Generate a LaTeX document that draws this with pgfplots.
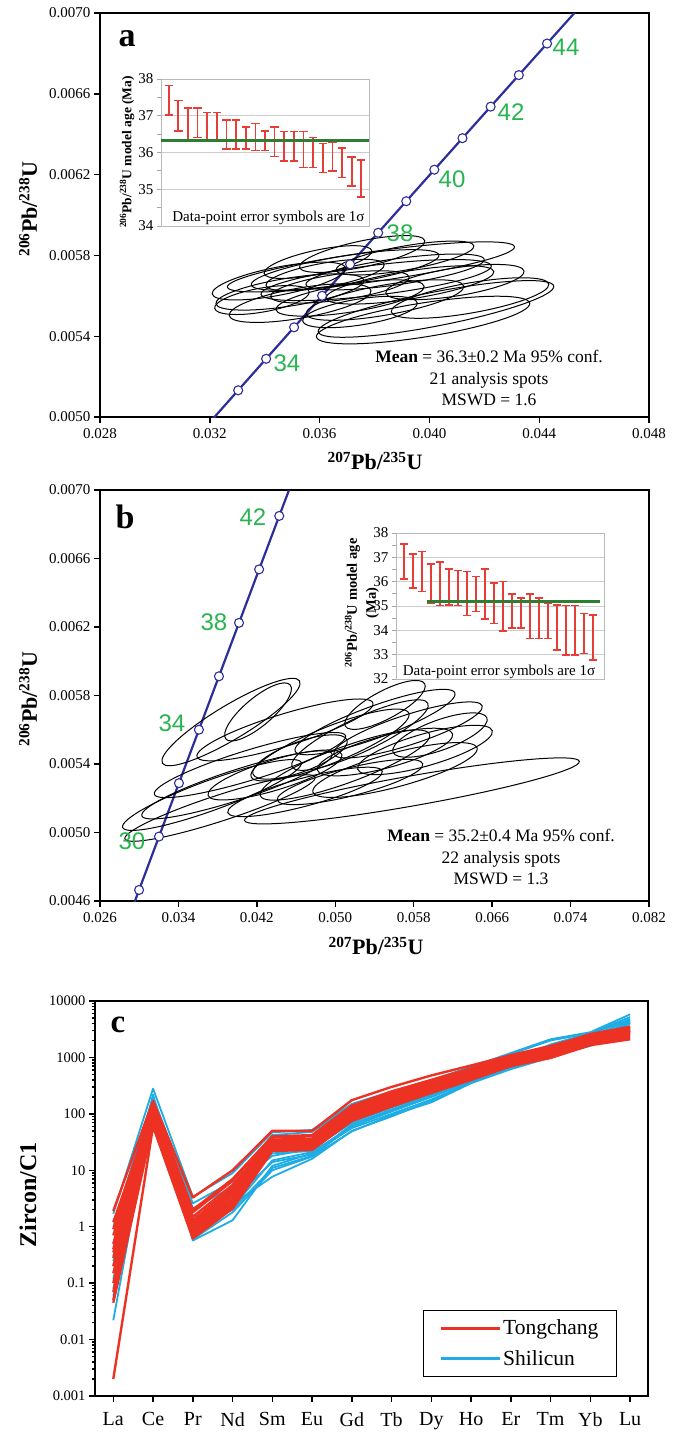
\documentclass[border=0pt]{standalone}
\usepackage{pgfplots}
\pgfplotsset{compat=1.18}
\usepackage{pgfplotstable}
\usepackage{fontspec}
\setmainfont{Liberation Serif}
\newfontfamily\sansf{Liberation Sans}
\definecolor{conc}{RGB}{45,45,155}
\definecolor{lblgreen}{RGB}{40,180,80}
\definecolor{ebred}{RGB}{232,60,55}
\definecolor{meangreen}{RGB}{45,125,50}
\definecolor{tcred}{RGB}{237,50,36}
\definecolor{slblue}{RGB}{30,172,228}
\newcommand{\fs}[1]{\fontsize{#1}{#1}\selectfont}

% ellipse plot mark: semi-axes (in px) passed through mark options
\def\ellrx{1}\def\ellry{1}
\pgfdeclareplotmark{ellmk}{%
  \pgfpathellipse{\pgfpointorigin}{\pgfpoint{\ellrx pt}{0pt}}{\pgfpoint{0pt}{\ellry pt}}%
  \pgfusepathqstroke}
% \ellp{x}{y}{semi-major px}{semi-minor px}{angle}
\newcommand{\ellp}[5]{\addplot[only marks, mark=ellmk,
  mark options={/utils/exec={\def\ellrx{#3}\def\ellry{#4}}, rotate=#5, draw=black, line width=1pt}]
  coordinates {(#1,#2)};}

% ---------- panel a data ----------
\pgfplotstableread{
x y
0.0320170 0.0049763
0.0330339 0.0051322
0.0340518 0.0052882
0.0350707 0.0054441
0.0360905 0.0056001
0.0371114 0.0057561
0.0381333 0.0059121
0.0391562 0.0060682
0.0401801 0.0062243
0.0412050 0.0063804
0.0422313 0.0065365
0.0432579 0.0066926
0.0442859 0.0068488
0.0453148 0.0070050
}\concLineA
\pgfplotstableread{
x y
0.0330339 0.0051322
0.0340518 0.0052882
0.0350707 0.0054441
0.0360905 0.0056001
0.0371114 0.0057561
0.0381333 0.0059121
0.0391562 0.0060682
0.0401801 0.0062243
0.0412050 0.0063804
0.0422313 0.0065365
0.0432579 0.0066926
0.0442859 0.0068488
}\concPtsA
\pgfplotstableread{
x y e
1 37.42 0.40
2 37.00 0.41
3 36.785 0.425
4 36.81 0.40
5 36.725 0.365
6 36.725 0.365
7 36.485 0.395
8 36.485 0.395
9 36.395 0.305
10 36.42 0.37
11 36.32 0.27
12 36.295 0.405
13 36.17 0.40
14 36.17 0.40
15 36.08 0.49
16 36.00 0.41
17 35.85 0.40
18 35.885 0.385
19 35.72 0.40
20 35.485 0.395
21 35.29 0.50
}\errA

% ---------- panel b data ----------
\pgfplotstableread{
x y
0.0289724 0.0045088
0.0299863 0.0046646
0.0320170 0.0049763
0.0340518 0.0052882
0.0360905 0.0056001
0.0381333 0.0059121
0.0401801 0.0062243
0.0422313 0.0065365
0.0442859 0.0068488
0.0453148 0.0070050
}\concLineB
\pgfplotstableread{
x y
0.0299863 0.0046646
0.0320170 0.0049763
0.0340518 0.0052882
0.0360905 0.0056001
0.0381333 0.0059121
0.0401801 0.0062243
0.0422313 0.0065365
0.0442859 0.0068488
}\concPtsB
\pgfplotstableread{
x y e
1 36.835 0.715
2 36.43 0.70
3 36.42 0.82
4 35.92 0.80
5 35.91 0.89
6 35.79 0.74
7 35.735 0.715
8 35.515 0.905
9 35.49 0.72
10 35.50 1.03
11 35.115 0.825
12 34.995 1.015
13 34.79 0.70
14 34.705 0.615
15 34.58 0.91
16 34.495 0.825
17 34.395 0.725
18 34.12 0.93
19 34.005 1.015
20 34.005 1.015
21 33.875 0.825
22 33.705 0.925
}\errB

% ---------- panel c data ----------
\pgfplotstableread{
x R1 R2 R3 R4 R5 R6 R7 R8 R9 R10 R11 R12 R13 R14 R15
0 1.9 0.9 0.7 0.5 0.35 0.28 0.2 0.15 0.1 0.07 0.05 0.045 0.002 0.4 1.2
1 170 150 140 130 120 110 100 95 90 80 70 65 60 160 125
2 3.3 1.8 1.5 1.3 1.2 1.1 1.0 0.9 0.8 0.75 0.7 0.65 0.62 2.0 1.0
3 10 6.5 5.5 5.0 4.5 4.0 3.6 3.2 3.0 2.7 2.4 2.2 2.1 7.0 4.2
4 50 38 35 33 31 30 28 27 26 25 24 23 22 40 32
5 50 40 36 34 32 30 29 28 27 26 25 24 23 42 31
6 175 135 125 115 108 100 95 90 88 84 80 78 75 140 110
7 300 240 220 205 195 180 170 165 160 150 145 140 135 250 200
8 480 380 360 340 320 300 290 280 270 260 250 240 235 400 330
9 720 620 580 560 540 520 500 480 470 450 430 410 400 640 550
10 1100 1000 950 920 900 870 850 820 800 780 750 720 700 1050 900
11 1600 1500 1400 1350 1300 1250 1200 1150 1100 1080 1050 1000 980 1550 1300
12 2500 2500 2400 2300 2200 2100 2000 1950 1900 1850 1800 1700 1650 2600 2200
13 3300 3400 3200 3000 2900 2800 2700 2600 2500 2400 2300 2200 2100 3500 3000
}\redtab
\pgfplotstableread{
x B1 B2 B3 B4 B5 B6 B7 B8 B9 B10
0 1.7 1.0 0.3 0.022 0.25 0.12 0.5 0.08 0.2 0.06
1 280 200 180 150 220 160 170 120 140 130
2 3.4 2.6 2.1 1.5 0.57 0.6 1.1 1.0 0.8 0.9
3 8.9 6.3 5.1 2.2 1.3 1.8 2.5 3.0 4.0 2.0
4 47 42 18 15 12 10 7.7 14 20 11
5 52 48 24 21 20 17.5 16 19 22 18
6 150 140 70 60 56 49 50 65 80 60
7 250 240 130 110 100 95 90 120 150 115
8 400 380 220 200 180 160 170 210 260 200
9 680 650 420 380 360 350 370 400 480 390
10 1200 1150 800 700 650 620 680 760 900 720
11 2100 2000 1600 1300 1100 1000 1050 1200 1700 1400
12 2800 2700 2600 2400 2000 1700 1600 2200 2700 2500
13 5800 5200 4800 4400 4200 4000 3000 4100 4600 3600
}\bluetab

\pgfplotsset{
  mainax/.style={
    scale only axis, anchor=south west,
    tick pos=left, tick align=outside,
    major tick length=6pt, minor tick length=3pt,
    tick style={black, line width=1.4pt},
    axis line style={black, line width=2.2pt},
    scaled ticks=false,
    /pgf/number format/assume math mode=true,
    tick label style={font=\rmfamily\fs{15}},
    xticklabel style={yshift=-2pt},
    clip=true,
  },
  insetax/.style={
    scale only axis, anchor=south west,
    axis background/.style={fill=white},
    ymajorgrids, grid style={gray!40, line width=0.8pt},
    axis line style={gray!55, line width=1pt},
    xtick=\empty, ytick pos=left, tick align=outside,
    major tick length=4pt, minor tick length=4pt,
    tick style={gray!70, line width=0.8pt},
    scaled ticks=false,
    /pgf/number format/assume math mode=true,
    yticklabel style={font=\rmfamily\fs{15}},
  },
  errplot/.style={
    only marks, mark=*, mark size=0pt, ebred,
    error bars/.cd, y dir=both, y explicit,
    error bar style={line width=1.7pt, ebred},
    error mark options={ebred, line width=1.5pt, mark size=4.2pt, rotate=90},
  },
}

\begin{document}
\begin{tikzpicture}
\useasboundingbox (0pt,0pt) rectangle (678pt,-1433pt);

% ================= panel a =================
\begin{axis}[mainax,
  at={(100pt,-417pt)}, width=549pt, height=404pt,
  xmin=0.028, xmax=0.048, ymin=0.0050, ymax=0.0070,
  xtick={0.028,0.032,0.036,0.040,0.044,0.048},
  xticklabels={0.028,0.032,0.036,0.040,0.044,0.048},
  ytick={0.0050,0.0054,0.0058,0.0062,0.0066,0.0070},
  yticklabels={0.0050,0.0054,0.0058,0.0062,0.0066,0.0070},
]
\ellp{0.03755}{0.005807}{64}{13}{12}
\ellp{0.03787}{0.005743}{145}{15}{8}
\ellp{0.04024}{0.005535}{120}{17}{11}
\ellp{0.03977}{0.005480}{108}{17}{9}
\ellp{0.03806}{0.005678}{116}{15}{7}
\ellp{0.03452}{0.005673}{68}{14}{11}
\ellp{0.03492}{0.005619}{75}{14}{9}
\ellp{0.03529}{0.005564}{72}{15}{10}
\ellp{0.03620}{0.005703}{60}{12}{10}
\ellp{0.03674}{0.005644}{70}{13}{8}
\ellp{0.03711}{0.005589}{75}{14}{9}
\ellp{0.03875}{0.005718}{90}{13}{8}
\ellp{0.03929}{0.005654}{85}{14}{9}
\ellp{0.03594}{0.005767}{55}{12}{12}
\ellp{0.03838}{0.005579}{80}{15}{10}
\ellp{0.04093}{0.005668}{70}{14}{9}
\ellp{0.04148}{0.005589}{80}{15}{10}
\ellp{0.03747}{0.005520}{58}{13}{9}
\ellp{0.03390}{0.005579}{48}{12}{10}
\ellp{0.03911}{0.005787}{70}{12}{10}
\ellp{0.03693}{0.005728}{95}{14}{9}
\addplot[conc, line width=2.2pt, mark=none] table[x=x,y=y] {\concLineA};
\addplot[only marks, mark=*, mark size=4.5pt, mark options={fill=white, draw=conc, line width=1.1pt}] table[x=x,y=y] {\concPtsA};
\end{axis}

\begin{axis}[insetax,
  at={(161pt,-226pt)}, width=208pt, height=147pt,
  xmin=0.2, xmax=21.8, ymin=34, ymax=38,
  ytick={34,35,36,37,38}, yticklabels={34,35,36,37,38},
  minor ytick={34.5,35.5,36.5,37.5},
]
\addplot[errplot] table[x=x,y=y,y error=e] {\errA};
\addplot[meangreen, line width=3pt, mark=none] coordinates {(0.2,36.32) (21.8,36.32)};
\node[font=\fs{15}, anchor=base, inner sep=0pt] at (axis cs:11.36,34.11) {Data-point error symbols are 1σ};
\end{axis}

% ================= panel b =================
\begin{axis}[mainax,
  at={(100pt,-901pt)}, width=549pt, height=411pt,
  xmin=0.026, xmax=0.082, ymin=0.0046, ymax=0.0070,
  xtick={0.026,0.034,0.042,0.050,0.058,0.066,0.074,0.082},
  xticklabels={0.026,0.034,0.042,0.050,0.058,0.066,0.074,0.082},
  ytick={0.0046,0.0050,0.0054,0.0058,0.0062,0.0066,0.0070},
  yticklabels={0.0046,0.0050,0.0054,0.0058,0.0062,0.0066,0.0070},
]
\ellp{0.05782}{0.005243}{170}{15}{10}
\ellp{0.03936}{0.005645}{80}{17}{31}
\ellp{0.04212}{0.005704}{42}{14}{40}
\ellp{0.03742}{0.005219}{95}{15}{20}
\ellp{0.03824}{0.005143}{100}{13}{18}
\ellp{0.03997}{0.005278}{100}{15}{18}
\ellp{0.04130}{0.005394}{100}{15}{17}
\ellp{0.04487}{0.005599}{92}{16}{17}
\ellp{0.04640}{0.005441}{50}{15}{20}
\ellp{0.04946}{0.005511}{85}{18}{22}
\ellp{0.05099}{0.005394}{90}{18}{20}
\ellp{0.05252}{0.005569}{75}{17}{25}
\ellp{0.05405}{0.005645}{85}{16}{20}
\ellp{0.05507}{0.005470}{70}{16}{15}
\ellp{0.05609}{0.005365}{85}{17}{15}
\ellp{0.05742}{0.005599}{78}{15}{18}
\ellp{0.05915}{0.005482}{70}{16}{16}
\ellp{0.05150}{0.005295}{75}{14}{14}
\ellp{0.04691}{0.005237}{80}{14}{15}
\ellp{0.06068}{0.005569}{50}{15}{20}
\ellp{0.04385}{0.005336}{70}{15}{17}
\ellp{0.05507}{0.005745}{45}{14}{28}
\addplot[conc, line width=2.2pt, mark=none] table[x=x,y=y] {\concLineB};
\addplot[only marks, mark=*, mark size=4.5pt, mark options={fill=white, draw=conc, line width=1.1pt}] table[x=x,y=y] {\concPtsB};
\end{axis}

\begin{axis}[insetax,
  at={(396pt,-679pt)}, width=208pt, height=146pt,
  xmin=0.1, xmax=23.2, ymin=32, ymax=38,
  ytick={32,33,34,35,36,37,38}, yticklabels={32,33,34,35,36,37,38},
  minor ytick={32.5,33.5,34.5,35.5,36.5,37.5},
]
\addplot[errplot] table[x=x,y=y,y error=e] {\errB};
\addplot[meangreen, line width=3pt, mark=none] coordinates {(3.5,35.18) (22.8,35.18)};
\node[font=\fs{15}, anchor=base, inner sep=0pt] at (axis cs:11.54,32.16) {Data-point error symbols are 1σ};
\end{axis}

% ================= panel c =================
\begin{axis}[mainax,
  at={(95pt,-1396pt)}, width=553pt, height=395pt,
  ymode=log, ymin=0.001, ymax=10000, xmin=-0.46, xmax=13.45,
  axis line style={black, line width=1.8pt},
  xtick={0,1,2,3,4,5,6,7,8,9,10,11,12,13},
  xticklabels={La,Ce,Pr,Nd,Sm,Eu,Gd,Tb,Dy,Ho,Er,Tm,Yb,Lu},
  ytick={0.001,0.01,0.1,1,10,100,1000,10000},
  yticklabels={0.001,0.01,0.1,1,10,100,1000,10000},
  minor ytick={0.002,0.003,0.004,0.005,0.006,0.007,0.008,0.009,
    0.02,0.03,0.04,0.05,0.06,0.07,0.08,0.09,
    0.2,0.3,0.4,0.5,0.6,0.7,0.8,0.9,
    2,3,4,5,6,7,8,9,20,30,40,50,60,70,80,90,
    200,300,400,500,600,700,800,900,2000,3000,4000,5000,6000,7000,8000,9000},
  yticklabel style={font=\rmfamily\fs{14.5}},
  xticklabel style={font=\rmfamily\fs{20}, yshift=-5pt},
  legend image code/.code={\draw[#1] (0pt,0pt) -- (59pt,0pt);},
  legend style={at={(0.944,0.048)}, anchor=south east, draw=black, line width=1.3pt,
    font=\fs{21.5}, inner xsep=16pt, inner ysep=7.5pt, row sep=10pt,
    cells={anchor=west}},
  legend cell align=left,
]
\pgfplotsinvokeforeach{1,...,10}{\addplot[slblue, line width=1.8pt, mark=none, line join=round, forget plot] table[x=x, y=B#1] {\bluetab};}
\pgfplotsinvokeforeach{1,...,15}{\addplot[tcred, line width=2.4pt, mark=none, line join=round, forget plot] table[x=x, y=R#1] {\redtab};}
\addlegendimage{tcred, line width=2.6pt}\addlegendentry{Tongchang}
\addlegendimage{slblue, line width=2.6pt}\addlegendentry{Shilicun}
\end{axis}

% ================= labels =================
\node[font=\bfseries\fs{34}] at (127pt,-39pt) {a};
\node[font=\bfseries\fs{34}] at (125pt,-517pt) {b};
\node[font=\bfseries\fs{33}] at (118pt,-1025pt) {c};

\node[rotate=90, font=\bfseries\fs{22}] at (28pt,-209pt) {\textsuperscript{206}Pb/\textsuperscript{238}U};
\node[font=\bfseries\fs{22}] at (375pt,-461pt) {\textsuperscript{207}Pb/\textsuperscript{235}U};
\node[rotate=90, font=\bfseries\fs{22}] at (28pt,-699pt) {\textsuperscript{206}Pb/\textsuperscript{238}U};
\node[font=\bfseries\fs{22}] at (376pt,-946pt) {\textsuperscript{207}Pb/\textsuperscript{235}U};
\node[rotate=90, font=\bfseries\fs{24}] at (28pt,-1195pt) {Zircon/C1};

\node[rotate=90, font=\bfseries\fs{13.5}] at (127pt,-152pt) {\textsuperscript{206}Pb/\textsuperscript{238}U model age (Ma)};
\node[rotate=90, font=\bfseries\fontsize{14.5}{19}\selectfont, align=center] at (362pt,-603pt) {\textsuperscript{206}Pb/\textsuperscript{238}U model age\\(Ma)};

\node[font=\fontsize{17.5}{21.5}\selectfont, align=center] at (489pt,-378pt) {\textbf{Mean} = 36.3±0.2 Ma 95\% conf.\\21 analysis spots\\MSWD = 1.6};
\node[font=\fontsize{17.5}{21.5}\selectfont, align=center] at (501pt,-857pt) {\textbf{Mean} = 35.2±0.4 Ma 95\% conf.\\22 analysis spots\\MSWD = 1.3};

\begin{scope}[font=\sansf\fs{24}, text=lblgreen]
\node at (566pt,-47pt) {44};
\node at (511pt,-112pt) {42};
\node at (452pt,-179pt) {40};
\node at (400pt,-233pt) {38};
\node at (287pt,-363pt) {34};
\node at (253pt,-517pt) {42};
\node at (214pt,-622pt) {38};
\node at (172pt,-723pt) {34};
\node at (132pt,-841pt) {30};
\end{scope}
\end{tikzpicture}
\end{document}
